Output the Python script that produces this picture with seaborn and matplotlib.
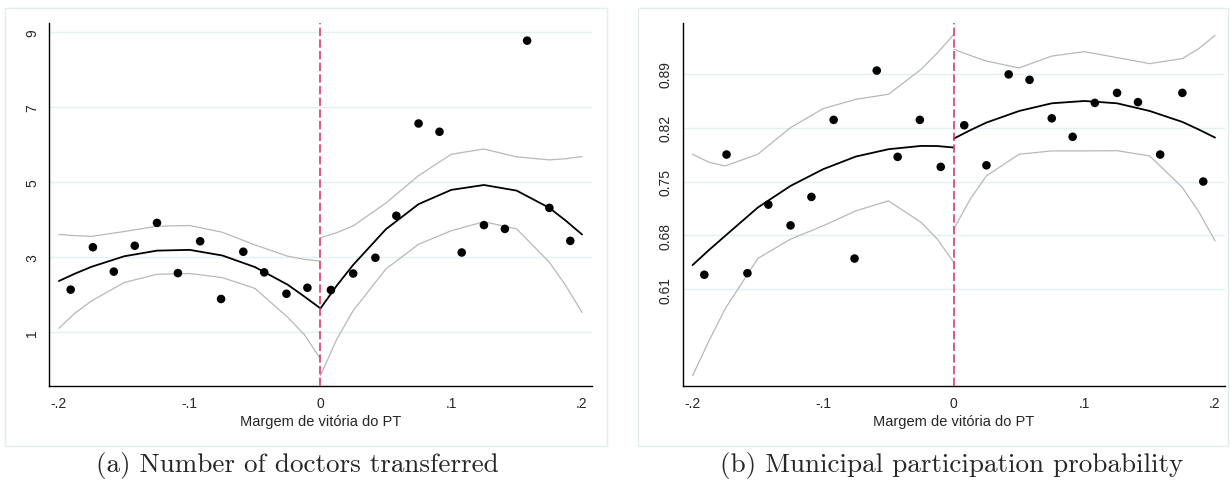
import numpy as np
import pandas as pd
import matplotlib
matplotlib.use("Agg")
import matplotlib.pyplot as plt
from matplotlib.patches import Rectangle
import seaborn as sns

# binned means (same bin centres for both panels)
bin_x = [-0.191, -0.174, -0.158, -0.142, -0.125, -0.109, -0.092, -0.076, -0.059, -0.043, -0.026, -0.010,
         0.008, 0.025, 0.042, 0.058, 0.075, 0.091, 0.108, 0.125, 0.141, 0.158, 0.175, 0.191]
doctors_bins = [2.14, 3.27, 2.62, 3.31, 3.92, 2.58, 3.43, 1.89, 3.15, 2.60, 2.03, 2.19,
                2.13, 2.57, 2.99, 4.11, 6.57, 6.35, 3.13, 3.86, 3.76, 8.78, 4.32, 3.44]
particip_bins = [0.629, 0.785, 0.631, 0.720, 0.693, 0.730, 0.830, 0.650, 0.894, 0.782, 0.830, 0.769,
                 0.823, 0.771, 0.889, 0.882, 0.832, 0.808, 0.852, 0.865, 0.853, 0.785, 0.865, 0.750]

grid_neg = [-0.2, -0.1875, -0.175, -0.15, -0.125, -0.1, -0.075, -0.05, -0.025, -0.0125, 0.0]
grid_pos = [0.0, 0.0125, 0.025, 0.05, 0.075, 0.1, 0.125, 0.15, 0.175, 0.1875, 0.2]

doctors_fit_neg = [2.37, 2.57, 2.75, 3.03, 3.18, 3.20, 3.05, 2.74, 2.27, 1.96, 1.64]
doctors_hi_neg = [3.61, 3.58, 3.56, 3.69, 3.83, 3.85, 3.67, 3.33, 3.03, 2.95, 2.90]
doctors_lo_neg = [1.11, 1.52, 1.84, 2.33, 2.55, 2.57, 2.46, 2.17, 1.40, 0.95, 0.29]
doctors_fit_pos = [1.64, 2.25, 2.80, 3.75, 4.42, 4.80, 4.93, 4.78, 4.32, 3.98, 3.61]
doctors_hi_pos = [3.52, 3.66, 3.84, 4.45, 5.18, 5.75, 5.89, 5.68, 5.60, 5.63, 5.69]
doctors_lo_pos = [-0.15, 0.82, 1.58, 2.69, 3.35, 3.71, 3.95, 3.76, 2.87, 2.25, 1.53]

particip_fit_neg = [0.6415, 0.661, 0.6795, 0.7163, 0.7443, 0.766, 0.7824, 0.7919, 0.7962, 0.796, 0.7941]
particip_hi_neg = [0.7854, 0.775, 0.7702, 0.7854, 0.820, 0.8446, 0.8567, 0.8632, 0.8956, 0.917, 0.941]
particip_lo_neg = [0.498, 0.543, 0.585, 0.6502, 0.6752, 0.6925, 0.7119, 0.7249, 0.6969, 0.675, 0.645]
particip_fit_pos = [0.8057, 0.8165, 0.8265, 0.8415, 0.8515, 0.8545, 0.8515, 0.8415, 0.8273, 0.8175, 0.807]
particip_hi_pos = [0.9215, 0.9137, 0.9063, 0.8974, 0.9128, 0.9185, 0.9108, 0.903, 0.9095, 0.9224, 0.9397]
particip_lo_pos = [0.6882, 0.727, 0.7573, 0.7854, 0.7897, 0.7897, 0.790, 0.7832, 0.7422, 0.711, 0.673]

x_ticks = [-0.2, -0.1, 0.0, 0.1, 0.2]
x_ticklabels = ["-.2", "-.1", "0", ".1", ".2"]
doctors_yticks = [1, 3, 5, 7, 9]
particip_yticks = [0.61, 0.68, 0.75, 0.82, 0.89]
x_label = "Margem de vitória do PT"
captions = ["(a) Number of doctors transferred", "(b) Municipal participation probability"]

sns.set_style("white")
plt.rcParams["font.family"] = ["Liberation Sans", "DejaVu Sans"]

fig = plt.figure(figsize=(12.3, 4.89), dpi=100)

# light graph-region boxes
box_col = "#e4ecee"
for bx, bw in [(0.0041, 0.4892), (0.5187, 0.4797)]:
    fig.patches.append(Rectangle((bx, 0.0865), bw, 0.8945, transform=fig.transFigure,
                                 facecolor="none", edgecolor=box_col, lw=1.0, zorder=0))

ax_a = fig.add_axes([0.0398, 0.2086, 0.4415, 0.7423])
ax_b = fig.add_axes([0.5550, 0.2086, 0.4409, 0.7423])

panels = [
    (ax_a, doctors_bins, doctors_fit_neg, doctors_hi_neg, doctors_lo_neg,
     doctors_fit_pos, doctors_hi_pos, doctors_lo_pos, doctors_yticks,
     [str(v) for v in doctors_yticks], (-0.43, 9.25)),
    (ax_b, particip_bins, particip_fit_neg, particip_hi_neg, particip_lo_neg,
     particip_fit_pos, particip_hi_pos, particip_lo_pos, particip_yticks,
     ["%.2f" % v for v in particip_yticks], (0.4846, 0.9557)),
]

for (ax, bins, fn, hn, ln, fp, hp, lp, yt, ytl, ylim) in panels:
    ax.set_facecolor("none")
    ax.set_zorder(2)
    for yv in yt:
        ax.axhline(yv, color="#e6eff1", lw=1.0, zorder=0)
    for g, lo, hi in [(grid_neg, ln, hn), (grid_pos, lp, hp)]:
        sns.lineplot(x=g, y=hi, ax=ax, color="#b8b8b8", lw=0.9, zorder=2)
        sns.lineplot(x=g, y=lo, ax=ax, color="#b8b8b8", lw=0.9, zorder=2)
    sns.lineplot(x=grid_neg, y=fn, ax=ax, color="black", lw=1.3, zorder=3)
    sns.lineplot(x=grid_pos, y=fp, ax=ax, color="black", lw=1.3, zorder=3)
    sns.scatterplot(x=bin_x, y=bins, ax=ax, color="black", s=38, edgecolor="none", zorder=4)
    ax.axvline(0, color="#d6406a", lw=1.2, dashes=(5.0, 2.0), zorder=5)

    ax.set_xlim(-0.2076, 0.2076)
    ax.set_ylim(*ylim)
    ax.set_xticks(x_ticks)
    ax.set_xticklabels(x_ticklabels)
    ax.set_yticks(yt)
    ax.set_yticklabels(ytl, rotation=90, va="center")
    ax.tick_params(axis="both", direction="out", length=4, width=0.8, color="black",
                   labelsize=10, pad=3)
    ax.set_xlabel(x_label, fontsize=10.5, labelpad=3)
    ax.set_ylabel("")
    for s in ["top", "right"]:
        ax.spines[s].set_visible(False)
    for s in ["left", "bottom"]:
        ax.spines[s].set_color("black")
        ax.spines[s].set_linewidth(1.0)

fig.text(0.2415, 0.048, captions[0], ha="center", va="center", fontsize=19.5, family="cmr10")
fig.text(0.774, 0.048, captions[1], ha="center", va="center", fontsize=19.5, family="cmr10")

fig.savefig("out.png", dpi=100)
